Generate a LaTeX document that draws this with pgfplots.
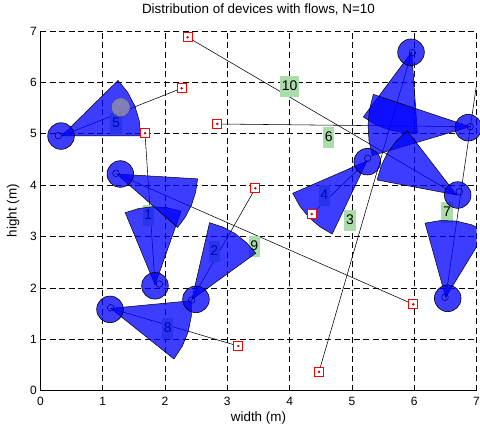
\documentclass[border=0pt]{standalone}
\usepackage{pgfplots}
\pgfplotsset{compat=1.18}
\usepackage{fontspec}
\setmainfont{Liberation Sans}
\definecolor{labgreen}{RGB}{170,221,170}
\definecolor{smallc}{RGB}{0,0,140}
\definecolor{dotred}{RGB}{200,0,0}
\pgfplotsset{fan/.style={draw=black, line width=0.5bp, fill=blue, fill opacity=0.76, draw opacity=1},
  flow/.style={black, line width=0.55bp, mark=none}}
\tikzset{lab/.style={fill=labgreen, inner xsep=1.7bp, inner ysep=2bp, text height=12.5bp, text depth=4.5bp, font=\fontsize{14bp}{16bp}\selectfont, text=black, anchor=center}}
\begin{document}
\begin{tikzpicture}
\begin{axis}[
  scale only axis, width=436bp, height=359.5bp,
  xmin=0, xmax=7, ymin=0, ymax=7,
  xtick={0,1,2,3,4,5,6,7}, ytick={0,1,2,3,4,5,6,7},
  axis x line*=bottom, axis y line*=left,
  axis line style={black, line width=0.6bp, -},
  tick align=inside, major tick length=4.5bp, tick style={black, line width=0.6bp},
  grid=major, grid style={black, line width=0.6bp, dash pattern=on 6bp off 3.5bp},
  /pgf/number format/assume math mode=true,
  tick label style={font=\fontsize{12bp}{14bp}\selectfont},
  xticklabel style={anchor=base, yshift=-15bp},
  title={Distribution of devices with flows, N=10},
  xlabel={width (m)}, ylabel={hight (m)},
  title style={at={(axis description cs:0.5,1.03255)}, anchor=base, inner sep=0pt, font=\fontsize{13.4bp}{16bp}\selectfont},
  xlabel style={at={(axis description cs:0.5,-0.0848)}, anchor=base, inner sep=0pt, font=\fontsize{13.4bp}{16bp}\selectfont},
  ylabel style={at={(axis description cs:-0.0544,0.5)}, rotate=0, anchor=base, inner sep=0pt, font=\fontsize{13.4bp}{16bp}\selectfont},
]
% flow lines (device -> receiver)
\addplot[flow] coordinates {(1.84,2.06) (1.679,5.009)};
\addplot[flow] coordinates {(2.43,1.77) (3.450,3.938)};
\addplot[flow] coordinates {(5.96,6.59) (4.472,0.366)};
\addplot[flow] coordinates {(5.243,4.47) (4.355,3.437)};
\addplot[flow] coordinates {(0.342,4.96) (2.268,5.885)};
\addplot[flow] coordinates {(6.896,5.137) (2.839,5.190)};
\addplot[flow] coordinates {(6.506,1.815) (7.02,6.124)};
\addplot[flow] coordinates {(1.128,1.601) (3.177,0.867)};
\addplot[flow] coordinates {(1.225,4.216) (5.986,1.679)};
\addplot[flow] coordinates {(6.682,3.807) (2.364,6.878)};
% receivers
\addplot[only marks, mark=square*, mark size=4.5bp, mark options={draw=red, fill=white, line width=0.8bp}] coordinates {
(1.679,5.009) (2.268,5.885) (2.364,6.878) (2.839,5.190) (3.450,3.938) (5.986,1.679) (4.472,0.366) (3.177,0.867) (4.355,3.437) (7.02,6.124)};
\addplot[only marks, mark=*, mark size=1bp, mark options={draw=dotred, fill=dotred}] coordinates {
(1.679,5.009) (2.268,5.885) (2.364,6.878) (2.839,5.190) (3.450,3.938) (5.986,1.679) (4.472,0.366) (3.177,0.867) (4.355,3.437) (7.02,6.124)};
% labels
\node[lab] at (axis cs:4.0,5.924) {10};
\node[lab] at (axis cs:4.63,4.927) {6};
\node[lab] at (axis cs:4.97,3.31) {3};
\node[lab] at (axis cs:6.527,3.476) {7};
\node[lab] at (axis cs:3.432,2.808) {9};
\node[lab] at (axis cs:1.732,3.418) {1};
\node[lab] at (axis cs:1.213,5.203) {5};
\node[lab] at (axis cs:2.792,2.717) {2};
\node[lab] at (axis cs:2.043,1.211) {8};
\node[lab] at (axis cs:4.557,3.807) {4};
% fans (beams)
\addplot[fan] coordinates {(1.84,2.06) (2.258,3.492) (2.036,3.560) (1.807,3.579) (1.580,3.546) (1.361,3.463)} --cycle;
\addplot[fan] coordinates {(2.43,1.77) (3.456,2.674) (3.307,2.881) (3.130,3.053) (2.930,3.183) (2.715,3.269)} --cycle;
\addplot[fan] coordinates {(5.96,6.59) (5.183,5.326) (5.380,5.179) (5.594,5.077) (5.820,5.022) (6.051,5.017)} --cycle;
\addplot[fan] coordinates {(5.243,4.47) (4.051,3.841) (4.162,3.594) (4.308,3.374) (4.484,3.190) (4.683,3.047)} --cycle;
\addplot[fan] coordinates {(0.342,4.96) (1.610,4.96) (1.586,5.257) (1.516,5.542) (1.401,5.806) (1.246,6.038)} --cycle;
\addplot[fan] coordinates {(6.896,5.137) (5.344,5.767) (5.283,5.473) (5.259,5.172) (5.274,4.869) (5.326,4.573)} --cycle;
\addplot[fan] coordinates {(6.506,1.815) (7.150,3.095) (6.922,3.227) (6.676,3.300) (6.423,3.311) (6.174,3.259)} --cycle;
\addplot[fan] coordinates {(1.128,1.601) (2.143,0.615) (2.279,0.868) (2.374,1.149) (2.422,1.446) (2.422,1.749)} --cycle;
\addplot[fan] coordinates {(1.225,4.216) (2.202,3.175) (2.329,3.384) (2.427,3.616) (2.492,3.865) (2.523,4.122)} --cycle;
\addplot[fan] coordinates {(6.682,3.807) (5.889,5.056) (5.715,4.862) (5.574,4.632) (5.469,4.375) (5.405,4.100)} --cycle;
% devices
\addplot[only marks, mark=*, mark size=13.3bp, mark options={draw=black, line width=0.6bp, fill=blue, fill opacity=0.76, draw opacity=1}] coordinates {
(0.331,4.955) (1.283,4.216) (1.839,2.04) (2.497,1.776) (1.117,1.581) (5.247,4.456) (5.949,6.586) (6.868,5.118) (6.698,3.807) (6.538,1.796)};
\addplot[only marks, mark=o, mark size=3.3bp, mark options={draw=smallc, line width=0.6bp}] coordinates {
(0.287,4.962) (1.213,4.230) (1.909,2.074) (2.428,1.762) (1.128,1.612) (5.254,4.522) (5.970,6.578) (6.896,5.137) (6.724,3.871) (6.494,1.815)};
\addplot[only marks, mark=*, mark size=9.5bp, mark options={draw={rgb,255:red,60;green,60;blue,130}, fill={rgb,255:red,140;green,140;blue,170}, fill opacity=0.85, draw opacity=1, line width=0.5bp}] coordinates {(1.289,5.515)};
\end{axis}
\pgfresetboundingbox
\useasboundingbox ([xshift=-40.4bp,yshift=-37.5bp]current axis.south west) rectangle ([xshift=3.5bp,yshift=31bp]current axis.north east);
\end{tikzpicture}
\end{document}
